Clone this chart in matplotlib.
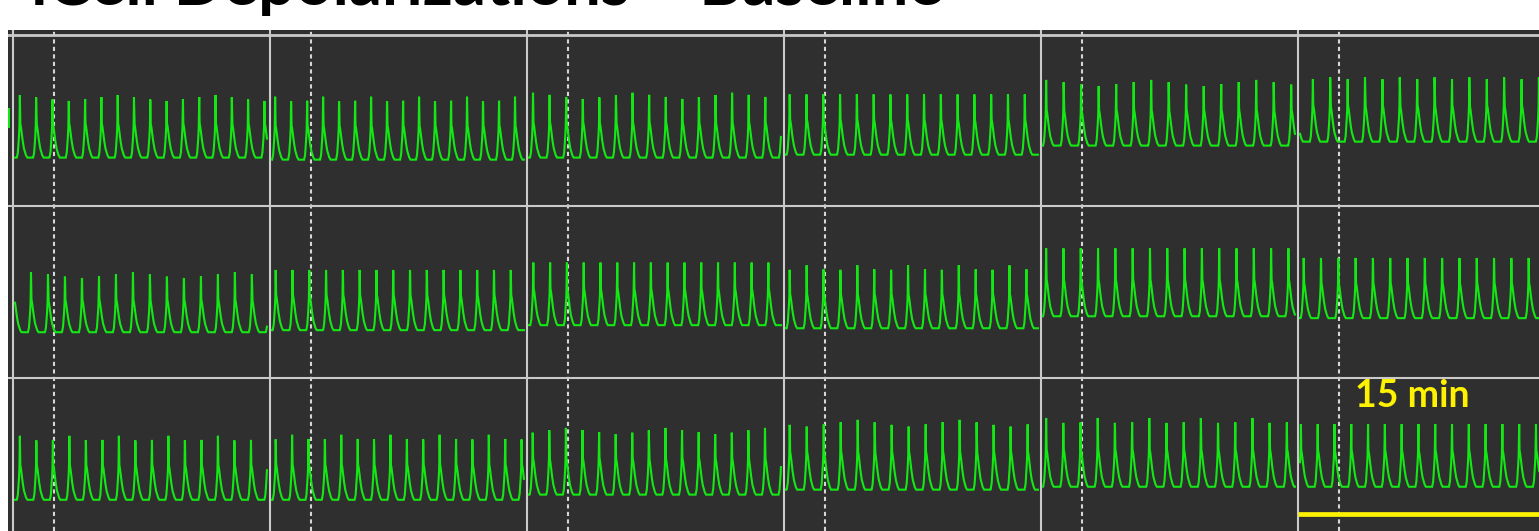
import numpy as np
import matplotlib
matplotlib.use("Agg")
import matplotlib.pyplot as plt
from matplotlib.patches import Rectangle

# ---- data -------------------------------------------------------------
TITLE = "iCell Depolarizations \u2013 Baseline"
SCALE_LABEL = "15 min"

SEGMENT_MIN = 15.0                        # one screen division = 15 min
SEGMENT_STARTS = [0, 15, 30, 45, 60, 75]  # min
RECORD_START, RECORD_END = 0.12, 14.83    # recorded span inside each segment (min)

# beat period per segment (s)
well1_period = [57.1, 56.0, 58.1, 58.8, 61.3, 60.9]
well2_period = [59.5, 58.8, 58.8, 59.2, 60.6, 60.6]
well3_period = [57.8, 57.4, 58.1, 59.5, 60.2, 58.8]

# time of first beat after segment start (s)
well1_first = [24, 18, 21, 20, 18, 52]
well2_first = [63, 20, 22, 20, 18, 20]
well3_first = [24, 20, 20, 20, 18, 10]

# peak / trough level per segment (a.u., row-relative)
well1_peak = [65.0, 64.0, 66.3, 68.0, 73.8, 76.7]
well1_trough = [28.5, 27.3, 28.5, 30.2, 35.5, 37.8]
well2_peak = [61.6, 65.7, 69.8, 65.7, 75.6, 72.7]
well2_trough = [26.7, 27.9, 30.8, 29.0, 36.0, 34.9]
well3_peak = [66.3, 66.9, 70.9, 75.6, 76.7, 75.6]
well3_trough = [29.0, 29.0, 32.0, 34.9, 36.6, 36.6]

# ---- figure layout ----------------------------------------------------
W, H = 1539, 531
fig = plt.figure(figsize=(W / 100, H / 100), dpi=100)
fig.patch.set_facecolor("white")

PX_PER_MIN = 257 / SEGMENT_MIN
ax = fig.add_axes([8 / W, 0, 1 - 8 / W, 1 - 30 / H])
ax.set_facecolor("#2f2f2f")
ax.set_xlim(-5 / PX_PER_MIN, (W - 13) / PX_PER_MIN)
ax.set_ylim(10.8, 302.9)
ax.set_xticks([])
ax.set_yticks([])
for sp in ax.spines.values():
    sp.set_visible(False)

# grid: solid division lines, dashed sub-lines, row separators
GRID = "#cacaca"
for s in SEGMENT_STARTS:
    ax.axvline(s, color=GRID, lw=1.5, zorder=1)
    ax.axvline(s + 2.39, color="#d6d6d6", lw=1.5, ls=(0, (2.0, 1.6)), zorder=1)
ax.axhline(300, color=GRID, lw=2.0, zorder=1)
ax.axhline(200, color=GRID, lw=1.5, zorder=1)
ax.axhline(100, color=GRID, lw=1.5, zorder=1)

# ---- beat template (time in s relative to a beat, fraction of amplitude)
K_T = np.array([-10.5, -7.0, -3.5, -1.4, 0.0, 1.4, 3.5, 8.8, 14.0, 21.0, 26.0])
K_V = np.array([0.0, 0.08, 0.30, 0.50, 1.0, 0.55, 0.50, 0.30, 0.15, 0.04, 0.0])


def segment_trace(start, first, period, peak, trough):
    t_min = np.arange(start + RECORD_START, start + RECORD_END, 0.01)
    t_sec = (t_min - start) * 60.0
    beats = np.arange(first - period, RECORD_END * 60 + period, period)
    rel = t_sec[:, None] - beats[None, :]
    shape = np.interp(rel, K_T, K_V, left=0.0, right=0.0).max(axis=1)
    return t_min, trough + (peak - trough) * shape


wells = [
    (200, well1_first, well1_period, well1_peak, well1_trough),
    (100, well2_first, well2_period, well2_peak, well2_trough),
    (0, well3_first, well3_period, well3_peak, well3_trough),
]

TRACE = "#14e814"
for offset, firsts, periods, peaks, troughs in wells:
    for i, s in enumerate(SEGMENT_STARTS):
        t, v = segment_trace(s, firsts[i], periods[i], peaks[i], troughs[i])
        ax.plot(t, v + offset, color=TRACE, lw=1.5, zorder=2,
                solid_joinstyle="miter")

# level marker on the first channel
ax.add_patch(Rectangle((-5 / PX_PER_MIN, 246), 2.2 / PX_PER_MIN, 11.7,
                       color=TRACE, lw=0, zorder=3))

# ---- scale bar --------------------------------------------------------
YELLOW = "#fff200"
ax.plot([SEGMENT_STARTS[-1], SEGMENT_STARTS[-1] + SEGMENT_MIN], [20.7, 20.7],
        color=YELLOW, lw=3.4, solid_capstyle="butt", zorder=4, clip_on=True)
ax.text(81.7, 83.1, SCALE_LABEL, color=YELLOW, fontsize=27,
        fontweight="bold", family=["Lato", "DejaVu Sans"],
        ha="center", va="baseline", zorder=4)

# ---- title (sits above the frame) --------------------------------------
fig.text(31 / W, 1 - 5 / H, TITLE, fontsize=47, fontweight="bold",
         family=["Lato", "DejaVu Sans"], color="black",
         ha="left", va="baseline")

fig.savefig("out.png", dpi=100, facecolor=fig.get_facecolor())
